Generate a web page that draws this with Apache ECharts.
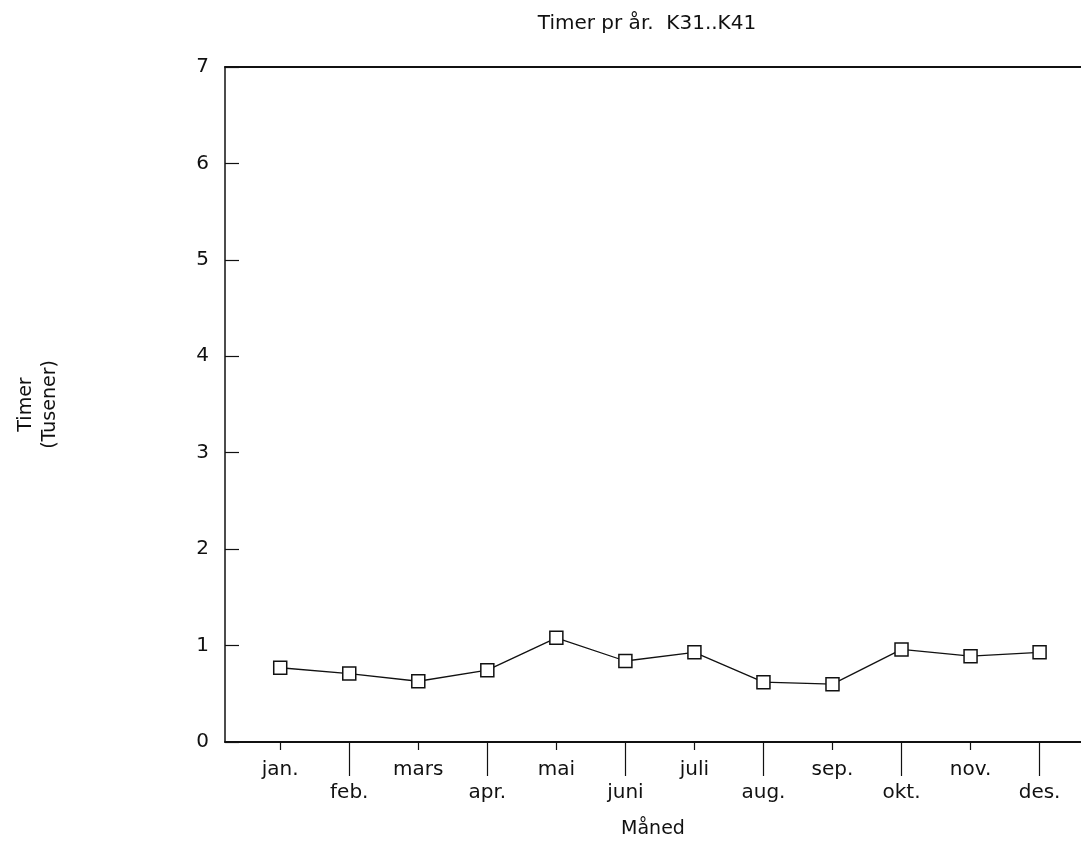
<!DOCTYPE html>
<html>
<head>
<meta charset="utf-8">
<script src="https://cdn.jsdelivr.net/npm/echarts@6/dist/echarts.min.js"></script>
<style>
html,body{margin:0;padding:0;background:#fff;}
#chart{width:1081px;height:843px;}
</style>
</head>
<body>
<div id="chart"></div>
<script>
const titleText = 'Timer pr år.  K31..K41';
const months = ['jan.','feb.','mars','apr.','mai','juni','juli','aug.','sep.','okt.','nov.','des.'];
const hours = [0.77, 0.71, 0.63, 0.745, 1.08, 0.84, 0.93, 0.62, 0.60, 0.96, 0.89, 0.93];
const yTicks = [0, 1, 2, 3, 4, 5, 6, 7];
const xName = 'Måned';
const yName = 'Timer\n(Tusener)';

const FONT = 'DejaVu Sans';
const idx = months.map((m, i) => i);
const shortTicks = idx.filter(i => i % 2 === 0);
const longTicks = idx.filter(i => i % 2 === 1);
const xMin = -0.80, xMax = 11.6;

const chart = echarts.init(document.getElementById('chart'));
chart.setOption({
  animation: false,
  backgroundColor: '#fff',
  title: {
    text: titleText,
    left: 642, top: 9, textAlign: 'center',
    textStyle: { fontFamily: FONT, fontSize: 20, fontWeight: 'normal', color: '#111' }
  },
  grid: { left: 225, right: 0, top: 67, bottom: 101, outerBoundsMode: 'none', containLabel: false },
  xAxis: [
    {
      type: 'value', min: xMin, max: xMax, position: 'bottom',
      splitLine: { show: false },
      axisLine: { show: true, onZero: false, lineStyle: { color: '#111', width: 2 } },
      axisTick: { show: true, customValues: shortTicks, length: 8, lineStyle: { color: '#111', width: 1.2 } },
      axisLabel: {
        customValues: idx, margin: 16,
        fontFamily: FONT, fontSize: 20, color: '#111', lineHeight: 23,
        formatter: v => { const i = Math.round(v); return i % 2 === 0 ? months[i] : '\n' + months[i]; }
      },
      name: xName, nameLocation: 'middle', nameGap: 78,
      nameTextStyle: { fontFamily: FONT, fontSize: 19, color: '#111' }
    },
    {
      type: 'value', min: xMin, max: xMax, position: 'bottom',
      splitLine: { show: false },
      axisLine: { show: false, onZero: false },
      axisTick: { show: true, customValues: longTicks, length: 34, lineStyle: { color: '#111', width: 1.2 } },
      axisLabel: { show: false }
    },
    {
      type: 'value', min: xMin, max: xMax, position: 'top',
      splitLine: { show: false },
      axisLine: { show: true, onZero: false, lineStyle: { color: '#111', width: 2 } },
      axisTick: { show: false },
      axisLabel: { show: false }
    }
  ],
  yAxis: {
    type: 'value', min: yTicks[0], max: yTicks[yTicks.length - 1], interval: 1,
    splitLine: { show: false },
    axisLine: { show: true, onZero: false, lineStyle: { color: '#111', width: 1.5 } },
    axisTick: { show: true, inside: true, length: 14, lineStyle: { color: '#111', width: 1.2 } },
    axisLabel: { margin: 16, fontFamily: FONT, fontSize: 20, color: '#111' },
    name: yName, nameLocation: 'middle', nameRotate: 90, nameGap: 163,
    nameTextStyle: { fontFamily: FONT, fontSize: 19, color: '#111', lineHeight: 24 }
  },
  series: [{
    type: 'line',
    xAxisIndex: 0,
    data: hours.map((v, i) => [i, v]),
    symbol: 'rect', symbolSize: 13,
    itemStyle: { color: '#fff', borderColor: '#111', borderWidth: 1.5 },
    lineStyle: { color: '#111', width: 1.3 },
    z: 3
  }]
});
</script>
</body>
</html>
